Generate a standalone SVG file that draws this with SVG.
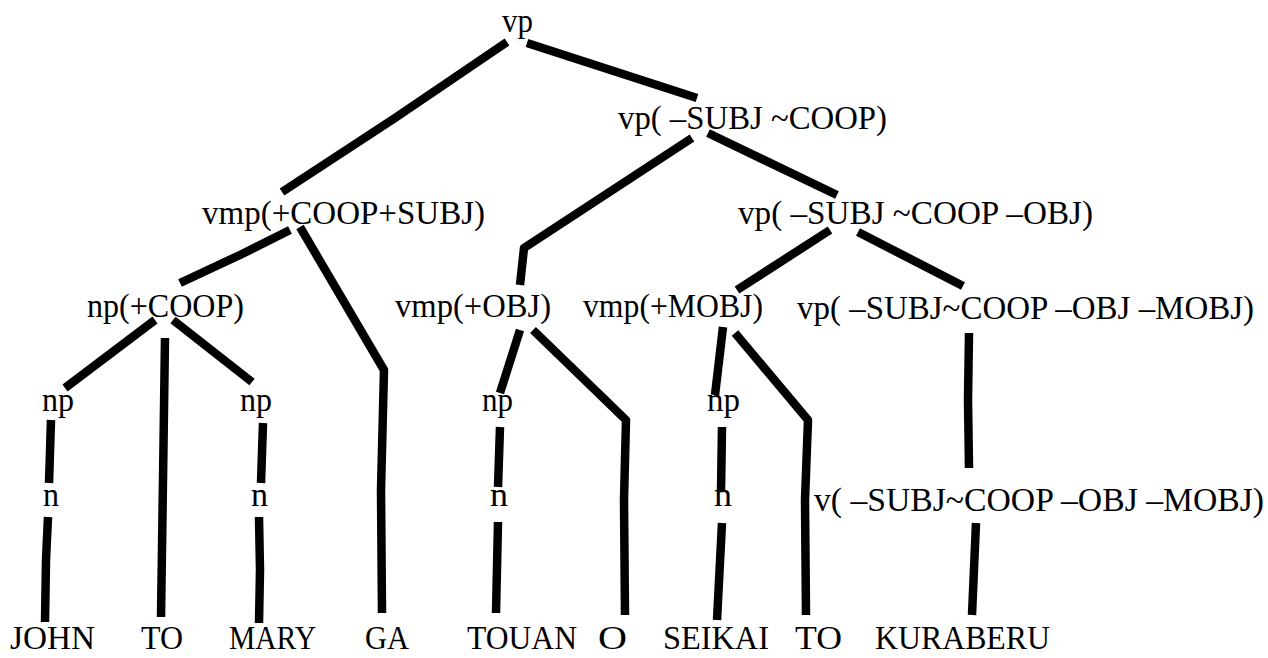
<svg xmlns="http://www.w3.org/2000/svg" width="1268" height="658" viewBox="0 0 1268 658">
<style>
  text { font-family: "Liberation Serif", "Times New Roman", serif; font-size: 34px; fill: #000; }
  .e { fill: none; stroke: #000; stroke-width: 8.5; stroke-linecap: butt; stroke-linejoin: round; }
</style>
<rect width="1268" height="658" fill="#fff"/>
<g id="connectors">
  <polyline class="e" points="507,42 395,118 282,192"/>
  <polyline class="e" points="527,43 697,98"/>
  <polyline class="e" points="692,138 524,248 520,285"/>
  <polyline class="e" points="708,133 837,195"/>
  <polyline class="e" points="290,230 240,255 180,283"/>
  <polyline class="e" points="300,227 384,370 381,490 382,613"/>
  <polyline class="e" points="830,230 737,290"/>
  <polyline class="e" points="858,232 963,286"/>
  <polyline class="e" points="155,320 65,388"/>
  <polyline class="e" points="165,338 163,480 161,617"/>
  <polyline class="e" points="173,320 252,382"/>
  <polyline class="e" points="51,420 49,483"/>
  <polyline class="e" points="48,517 46,560 45,622"/>
  <polyline class="e" points="263,423 261,483"/>
  <polyline class="e" points="259,517 260,570 259,623"/>
  <polyline class="e" points="520,330 500,393"/>
  <polyline class="e" points="533,330 626,420 624,500 625,615"/>
  <polyline class="e" points="500,427 498,487"/>
  <polyline class="e" points="498,522 496,613"/>
  <polyline class="e" points="723,327 715,395"/>
  <polyline class="e" points="735,333 808,420 805,500 806,615"/>
  <polyline class="e" points="722,427 721,492"/>
  <polyline class="e" points="722,523 717,620"/>
  <polyline class="e" points="969,333 968,400 969,468"/>
  <polyline class="e" points="976,523 972,615"/>
</g>
<g id="n-vp"><text x="502" y="32" textLength="31" lengthAdjust="spacingAndGlyphs">vp</text></g>
<g id="n-vp-subj-coop"><text x="618" y="129" textLength="269" lengthAdjust="spacingAndGlyphs">vp( –SUBJ ~COOP)</text></g>
<g id="n-vmp-coop-subj"><text x="202" y="224" textLength="283" lengthAdjust="spacingAndGlyphs">vmp(+COOP+SUBJ)</text></g>
<g id="n-vp-obj"><text x="738" y="224" textLength="355" lengthAdjust="spacingAndGlyphs">vp( –SUBJ ~COOP –OBJ)</text></g>
<g id="n-np-coop"><text x="87" y="317" textLength="157" lengthAdjust="spacingAndGlyphs">np(+COOP)</text></g>
<g id="n-vmp-obj"><text x="395" y="317" textLength="156" lengthAdjust="spacingAndGlyphs">vmp(+OBJ)</text></g>
<g id="n-vmp-mobj"><text x="583" y="317" textLength="180" lengthAdjust="spacingAndGlyphs">vmp(+MOBJ)</text></g>
<g id="n-vp-mobj"><text x="797" y="319" textLength="457" lengthAdjust="spacingAndGlyphs">vp( –SUBJ~COOP –OBJ –MOBJ)</text></g>
<g id="n-np1"><text x="42" y="411" textLength="32" lengthAdjust="spacingAndGlyphs">np</text></g>
<g id="n-np2"><text x="240" y="411" textLength="32" lengthAdjust="spacingAndGlyphs">np</text></g>
<g id="n-np3"><text x="482" y="411" textLength="31" lengthAdjust="spacingAndGlyphs">np</text></g>
<g id="n-np4"><text x="707" y="411" textLength="33" lengthAdjust="spacingAndGlyphs">np</text></g>
<g id="n-n1"><text x="43" y="506" textLength="16" lengthAdjust="spacingAndGlyphs">n</text></g>
<g id="n-n2"><text x="251" y="506" textLength="17" lengthAdjust="spacingAndGlyphs">n</text></g>
<g id="n-n3"><text x="490" y="506" textLength="18" lengthAdjust="spacingAndGlyphs">n</text></g>
<g id="n-n4"><text x="714" y="506" textLength="18" lengthAdjust="spacingAndGlyphs">n</text></g>
<g id="n-v"><text x="814" y="511" textLength="450" lengthAdjust="spacingAndGlyphs">v( –SUBJ~COOP –OBJ –MOBJ)</text></g>
<g id="w-john"><text x="10" y="649" textLength="85" lengthAdjust="spacingAndGlyphs">JOHN</text></g>
<g id="w-to1"><text x="141" y="649" textLength="42" lengthAdjust="spacingAndGlyphs">TO</text></g>
<g id="w-mary"><text x="229" y="649" textLength="87" lengthAdjust="spacingAndGlyphs">MARY</text></g>
<g id="w-ga"><text x="365" y="649" textLength="44" lengthAdjust="spacingAndGlyphs">GA</text></g>
<g id="w-touan"><text x="467" y="649" textLength="110" lengthAdjust="spacingAndGlyphs">TOUAN</text></g>
<g id="w-o"><text x="598" y="649" textLength="29" lengthAdjust="spacingAndGlyphs">O</text></g>
<g id="w-seikai"><text x="663" y="649" textLength="106" lengthAdjust="spacingAndGlyphs">SEIKAI</text></g>
<g id="w-to2"><text x="795" y="649" textLength="47" lengthAdjust="spacingAndGlyphs">TO</text></g>
<g id="w-kuraberu"><text x="875" y="649" textLength="175" lengthAdjust="spacingAndGlyphs">KURABERU</text></g>
</svg>
